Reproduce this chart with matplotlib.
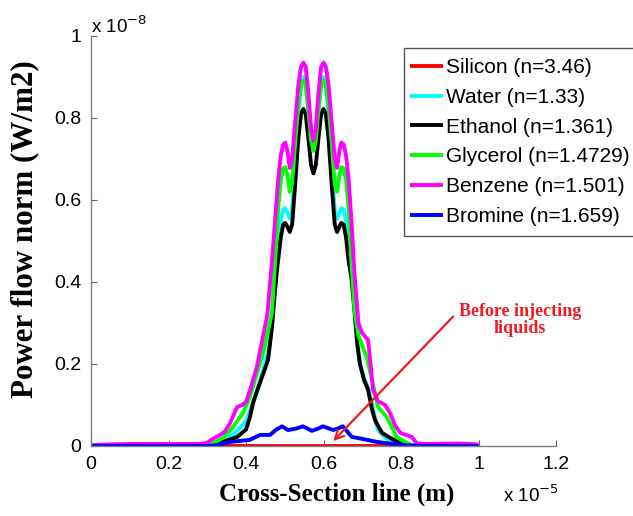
import matplotlib
matplotlib.use("Agg")
import matplotlib.pyplot as plt
from matplotlib.patches import Rectangle

# Cross-section position (units of 1e-5 m) and power flow norm (units of 1e-8 W/m2)
silicon_x = [0.0, 0.3, 0.6, 0.85, 1.0]
silicon_y = [0.0, 0.0, 0.0, 0.0, 0.0]

water_x = [0.0, 0.2, 0.3, 0.31, 0.34, 0.37, 0.40, 0.42, 0.44, 0.46, 0.467, 0.475, 0.483,
           0.49, 0.496, 0.501, 0.507, 0.513, 0.519, 0.527, 0.535, 0.542, 0.548, 0.554,
           0.561, 0.568, 0.574, 0.58, 0.587, 0.594, 0.60, 0.606, 0.613, 0.621, 0.629,
           0.635, 0.641, 0.646, 0.652, 0.658, 0.665, 0.672, 0.68, 0.687, 0.694, 0.705,
           0.716, 0.728, 0.74, 0.76, 0.78, 0.80, 0.82, 0.9, 1.0]
water_y = [0.0, 0.0, 0.0, 0.003, 0.012, 0.03, 0.06, 0.11, 0.17, 0.24, 0.30, 0.42, 0.50,
           0.55, 0.577, 0.58, 0.568, 0.555, 0.575, 0.68, 0.81, 0.88, 0.90, 0.885,
           0.82, 0.75, 0.725, 0.75, 0.82, 0.885, 0.90, 0.88, 0.81, 0.68, 0.575,
           0.555, 0.568, 0.58, 0.577, 0.55, 0.50, 0.43, 0.33, 0.25, 0.20, 0.165,
           0.14, 0.09, 0.039, 0.02, 0.008, 0.003, 0.0, 0.0, 0.0]

ethanol_x = [0.0, 0.2, 0.3, 0.315, 0.341, 0.377, 0.40, 0.41, 0.418, 0.436, 0.457, 0.467,
             0.475, 0.48, 0.49, 0.496, 0.501, 0.507, 0.513, 0.519, 0.527, 0.535, 0.542,
             0.548, 0.554, 0.561, 0.568, 0.574, 0.58, 0.587, 0.594, 0.60, 0.606, 0.613,
             0.621, 0.629, 0.635, 0.641, 0.646, 0.652, 0.658, 0.665, 0.672, 0.68,
             0.687, 0.694, 0.705, 0.715, 0.725, 0.733, 0.751, 0.772, 0.798, 0.82,
             0.9, 1.0]
ethanol_y = [0.0, 0.0, 0.0, 0.004, 0.01, 0.022, 0.04, 0.07, 0.105, 0.154, 0.21, 0.29,
             0.38, 0.43, 0.51, 0.54, 0.544, 0.535, 0.522, 0.54, 0.64, 0.75, 0.81,
             0.822, 0.81, 0.75, 0.685, 0.665, 0.685, 0.75, 0.81, 0.822, 0.81, 0.75,
             0.64, 0.54, 0.522, 0.535, 0.544, 0.54, 0.51, 0.45, 0.41, 0.33,
             0.25, 0.20, 0.16, 0.137, 0.09, 0.063, 0.032, 0.02, 0.007, 0.0,
             0.0, 0.0]

glycerol_x = [0.0, 0.2, 0.3, 0.315, 0.341, 0.366, 0.392, 0.41, 0.423, 0.444, 0.467,
              0.475, 0.483, 0.49, 0.496, 0.501, 0.507, 0.513, 0.519, 0.527, 0.535,
              0.542, 0.548, 0.554, 0.561, 0.568, 0.574, 0.58, 0.587, 0.594, 0.60,
              0.606, 0.613, 0.621, 0.629, 0.635, 0.641, 0.646, 0.652, 0.658, 0.665,
              0.672, 0.68, 0.69, 0.70, 0.712, 0.725, 0.741, 0.763, 0.789, 0.81, 0.83,
              0.9, 1.0]
glycerol_y = [0.0, 0.0, 0.0, 0.007, 0.02, 0.046, 0.08, 0.12, 0.161, 0.227, 0.324,
              0.45, 0.58, 0.65, 0.677, 0.68, 0.66, 0.62, 0.64, 0.74, 0.83,
              0.88, 0.893, 0.88, 0.82, 0.745, 0.72, 0.745, 0.82, 0.88, 0.893,
              0.88, 0.83, 0.74, 0.64, 0.62, 0.66, 0.68, 0.677, 0.65, 0.58,
              0.45, 0.33, 0.27, 0.245, 0.215, 0.161, 0.095, 0.071, 0.022, 0.01, 0.002,
              0.0, 0.0]

benzene_x = [0.0, 0.05, 0.1, 0.2, 0.28, 0.30, 0.315, 0.333, 0.345, 0.359, 0.37, 0.377,
             0.39, 0.40, 0.415, 0.428, 0.437, 0.444, 0.455, 0.467, 0.475, 0.483, 0.49,
             0.496, 0.501, 0.507, 0.513, 0.519, 0.527, 0.535, 0.542, 0.548, 0.554,
             0.561, 0.568, 0.574, 0.58, 0.587, 0.594, 0.60, 0.606, 0.613, 0.621,
             0.629, 0.635, 0.641, 0.646, 0.652, 0.658, 0.665, 0.672, 0.68, 0.69, 0.70,
             0.715, 0.728, 0.74, 0.759, 0.772, 0.785, 0.798, 0.828, 0.84, 0.86, 0.95,
             1.0]
benzene_y = [0.002, 0.004, 0.005, 0.005, 0.005, 0.008, 0.018, 0.027, 0.035, 0.056,
             0.08, 0.095, 0.10, 0.107, 0.15, 0.193, 0.235, 0.268, 0.32, 0.45, 0.55,
             0.65, 0.71, 0.735, 0.74, 0.72, 0.678, 0.70, 0.79, 0.88, 0.925, 0.935,
             0.925, 0.86, 0.775, 0.745, 0.775, 0.86, 0.925, 0.935, 0.925, 0.88,
             0.79, 0.70, 0.678, 0.72, 0.74, 0.735, 0.71, 0.65, 0.55, 0.42, 0.30,
             0.275, 0.259, 0.137, 0.11, 0.10, 0.08, 0.05, 0.032, 0.022, 0.007, 0.005,
             0.006, 0.004]

bromine_x = [0.0, 0.3, 0.325, 0.359, 0.41, 0.436, 0.462, 0.478, 0.493, 0.508, 0.527,
             0.547, 0.57, 0.585, 0.599, 0.625, 0.638, 0.65, 0.673, 0.686, 0.712, 0.738,
             0.763, 0.80, 0.85, 1.0]
bromine_y = [0.0, 0.0, 0.002, 0.01, 0.015, 0.027, 0.027, 0.04, 0.048, 0.039, 0.042,
             0.048, 0.037, 0.042, 0.048, 0.039, 0.043, 0.048, 0.022, 0.02, 0.015, 0.01,
             0.007, 0.003, 0.0, 0.0]

series = [
    ("Silicon (n=3.46)", silicon_x, silicon_y, (1, 0, 0)),
    ("Water (n=1.33)", water_x, water_y, (0, 1, 1)),
    ("Ethanol (n=1.361)", ethanol_x, ethanol_y, (0, 0, 0)),
    ("Glycerol (n=1.4729)", glycerol_x, glycerol_y, (0, 1, 0)),
    ("Benzene (n=1.501)", benzene_x, benzene_y, (1, 0, 1)),
    ("Bromine (n=1.659)", bromine_x, bromine_y, (0, 0, 1)),
]

x_ticks = [0, 0.2, 0.4, 0.6, 0.8, 1.0, 1.2]
x_tick_labels = ["0", "0.2", "0.4", "0.6", "0.8", "1", "1.2"]
y_ticks = [0, 0.2, 0.4, 0.6, 0.8, 1.0]
y_tick_labels = ["0", "0.2", "0.4", "0.6", "0.8", "1"]

sans = ["Liberation Sans", "DejaVu Sans"]
serif = ["Liberation Serif", "DejaVu Serif"]
note_red = (0.93, 0.11, 0.14)

W, H = 633, 516
fig = plt.figure(figsize=(W / 100, H / 100), dpi=100)
ax = fig.add_axes([91 / W, 70 / H, 465 / W, 410 / H])

for label, xs, ys, color in series:
    ax.plot(xs, ys, color=color, lw=2.8, label=label,
            solid_joinstyle="round", solid_capstyle="butt")

ax.set_xlim(0, 1.2)
ax.set_ylim(0, 1.0)
ax.set_xticks(x_ticks)
ax.set_xticklabels(x_tick_labels, fontfamily=sans, fontsize=14)
ax.set_yticks(y_ticks)
ax.set_yticklabels(y_tick_labels, fontfamily=sans, fontsize=14)
ax.tick_params(direction="in", length=4, width=0.8, color="#666666", pad=7)
for side in ("top", "right"):
    ax.spines[side].set_visible(False)
for side in ("left", "bottom"):
    ax.spines[side].set_color("#808080")
    ax.spines[side].set_linewidth(1.0)

ax.set_xlabel("Cross-Section line (m)", fontfamily=serif, fontweight="bold",
              fontsize=18)
ax.xaxis.set_label_coords(0.529, -0.09)
ax.set_ylabel("Power flow norm (W/m2)", fontfamily=serif, fontweight="bold",
              fontsize=22.3)
ax.yaxis.set_label_coords(-0.112, 0.53)

# exponent multipliers for both axes
ax.text(0.0, 0.997, r"x 10$^{-8}$", transform=ax.transAxes, fontfamily=sans,
        fontsize=13.5, ha="left", va="bottom")
ax.text(0.885, -0.095, r"x 10$^{-5}$", transform=ax.transAxes, fontfamily=sans,
        fontsize=13.5, ha="left", va="top")

ax.annotate("Before injecting\nliquids", xy=(0.625, 0.012), xytext=(1.107, 0.307),
            color=note_red, fontfamily=serif, fontweight="bold", fontsize=13,
            ha="center", va="center", linespacing=1.0,
            arrowprops=dict(arrowstyle="->", color=note_red, lw=1.6,
                            shrinkA=3, shrinkB=0, relpos=(0.0, 0.78),
                            mutation_scale=16))

# legend entries without their own frame; the box is drawn separately and
# runs past the right edge of the figure
leg = ax.legend(loc="upper left", bbox_to_anchor=(410 / W, 1 - 58 / H),
                bbox_transform=fig.transFigure, prop={"family": sans, "size": 15},
                frameon=False, handlelength=1.6, handletextpad=0.15,
                labelspacing=0.52, borderpad=0, borderaxespad=0)
fig.add_artist(Rectangle((404 / W, 1 - 236 / H), (650 - 404) / W, 188 / H,
                         transform=fig.transFigure, fill=False,
                         edgecolor="#555555", linewidth=1.0))

fig.savefig("out.png", dpi=100)
